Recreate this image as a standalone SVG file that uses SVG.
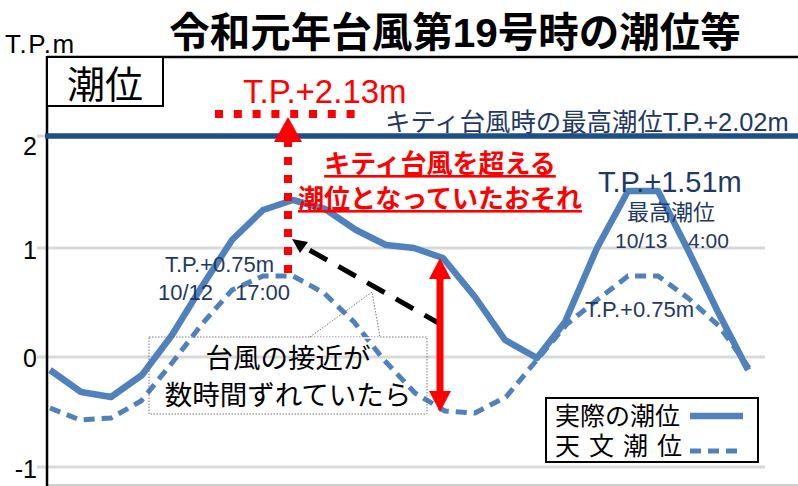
<svg xmlns="http://www.w3.org/2000/svg" width="798" height="486" viewBox="0 0 798 486">
<style>
.lat{font-family:"Liberation Sans","Noto Sans CJK JP",sans-serif}
.jp{font-family:"Liberation Sans","Noto Sans CJK JP",sans-serif}
.navy{fill:#1f3864}
.grid{stroke:#d9d9d9;stroke-width:3;fill:none}
.solid{stroke:#4f81bd;stroke-width:6.5;fill:none;stroke-linejoin:round}
.dash{stroke:#4f81bd;stroke-width:5;fill:none;stroke-dasharray:11 7}
.thin{stroke:#666;stroke-width:0.9;fill:none;stroke-dasharray:1.5 1.5}
</style>
<rect width="798" height="486" fill="#fff"/>
<g id="axes">
<line class="grid" x1="37" y1="136" x2="765" y2="136"/>
<line class="grid" x1="37" y1="248" x2="765" y2="248"/>
<line class="grid" x1="37" y1="357" x2="765" y2="357"/>
<line class="grid" x1="37" y1="467" x2="765" y2="467"/>
<line x1="47" y1="485" x2="798" y2="485" stroke="#bfbfbf" stroke-width="1.5"/>
<line x1="47" y1="57" x2="798" y2="57" stroke="#000" stroke-width="2.5"/>
<line x1="47" y1="56" x2="47" y2="486" stroke="#000" stroke-width="2.5"/>
<g class="lat" font-size="25" text-anchor="end" fill="#000">
<text x="37" y="155">2</text>
<text x="37" y="259">1</text>
<text x="37" y="367">0</text>
<text x="37" y="478">-1</text>
</g>
<text class="lat" x="5" y="53" font-size="26" letter-spacing="1.5" fill="#000">T.P.m</text>
</g>
<g id="title">
<text class="jp" x="455" y="47" font-size="40.5" font-weight="bold" text-anchor="middle" fill="#000">令和元年台風第19号時の潮位等</text>
</g>
<g id="label-box">
<rect x="47" y="57" width="116" height="49" fill="#fff" stroke="#000" stroke-width="2"/>
<text class="jp" x="105" y="98" font-size="38" text-anchor="middle" fill="#000">潮位</text>
</g>
<g id="kitty-line">
<line x1="45" y1="136" x2="798" y2="136" stroke="#1f4e89" stroke-width="5.5"/>
<text class="jp navy" x="385" y="131" font-size="25.4">キティ台風時の最高潮位T.P.+2.02m</text>
</g>
<g id="series">
<polyline class="dash" points="50,408 80,420 111,418 141,401 172,363 202,324 232,290 263,276 293,276 324,293 354,322 384,360 415,393 445,411 475,413 506,397 536,361 567,324 597,300 628,276 658,276 688,298 719,326 749,368"/>
<polyline class="solid" points="50,370 81,392 111,397 142,375 172,335 201,288 232,240 263,210 293,200 325,209 356,230 386,245 414,248 443,258 475,297 505,340 537,358 565,322 597,248 628,191 658,191 688,250 718,312 748,370"/>
</g>
<g id="annotation-213">
<text class="lat" x="243" y="103" font-size="33" fill="#ff0000">T.P.+2.13m</text>
<line x1="215" y1="114" x2="356" y2="114" stroke="#ff0000" stroke-width="8" stroke-dasharray="8 10.8"/>
<line x1="288" y1="139" x2="288" y2="277" stroke="#ff0000" stroke-width="8" stroke-dasharray="8 10"/>
<polygon points="288,117 274,142 302,142" fill="#ff0000"/>
</g>
<g id="warning-text" class="jp" font-size="26" font-weight="bold" fill="#ff0000" text-anchor="middle" text-decoration="underline">
<text x="440" y="173">キティ台風を超える</text>
<text x="440" y="208">潮位となっていたおそれ</text>
</g>
<g id="connectors">
<line x1="442" y1="325" x2="304" y2="247" stroke="#000" stroke-width="5" stroke-dasharray="20 13"/>
<polygon points="292,239 308,242 300,253" fill="#000"/>
<line x1="440" y1="277" x2="440" y2="393" stroke="#ff0000" stroke-width="7"/>
<polygon points="440,258 429,279 451,279" fill="#ff0000"/>
<polygon points="440,412 429,391 451,391" fill="#ff0000"/>
</g>
<g id="callout">
<path class="thin" d="M310,337 L372,292 L380,337"/>
<rect class="thin" x="149" y="337" width="278" height="77" fill="#fff"/>
<path d="M311,338 L379,338" stroke="#fff" stroke-width="1.5"/>
<g class="jp" font-size="27.5" fill="#000" text-anchor="middle">
<text x="288" y="368">台風の接近が</text>
<text x="288" y="405">数時間ずれていたら</text>
</g>
</g>
<g id="peak-labels" class="lat navy">
<text x="165" y="272" font-size="22">T.P.+0.75m</text>
<text x="158" y="300" font-size="22">10/12<tspan x="235">17:00</tspan></text>
<text x="598" y="192" font-size="29">T.P.+1.51m</text>
<text class="jp" x="627" y="220" font-size="22">最高潮位</text>
<text x="615" y="248" font-size="21">10/13<tspan x="688">4:00</tspan></text>
<text x="585" y="317" font-size="22">T.P.+0.75m</text>
</g>
<g id="legend">
<rect x="546" y="398" width="212" height="64" fill="#fff" stroke="#000" stroke-width="2"/>
<text class="jp" x="555" y="425" font-size="25" fill="#000">実際の潮位</text>
<text class="jp" y="455" font-size="25" fill="#000"><tspan x="555">天</tspan><tspan x="589">文</tspan><tspan x="623">潮</tspan><tspan x="657">位</tspan></text>
<line class="solid" x1="690" y1="416" x2="743" y2="416" stroke-width="6"/>
<line class="dash" x1="690" y1="451" x2="743" y2="451" stroke-width="4.5" stroke-dasharray="10 6"/>
</g>
</svg>
